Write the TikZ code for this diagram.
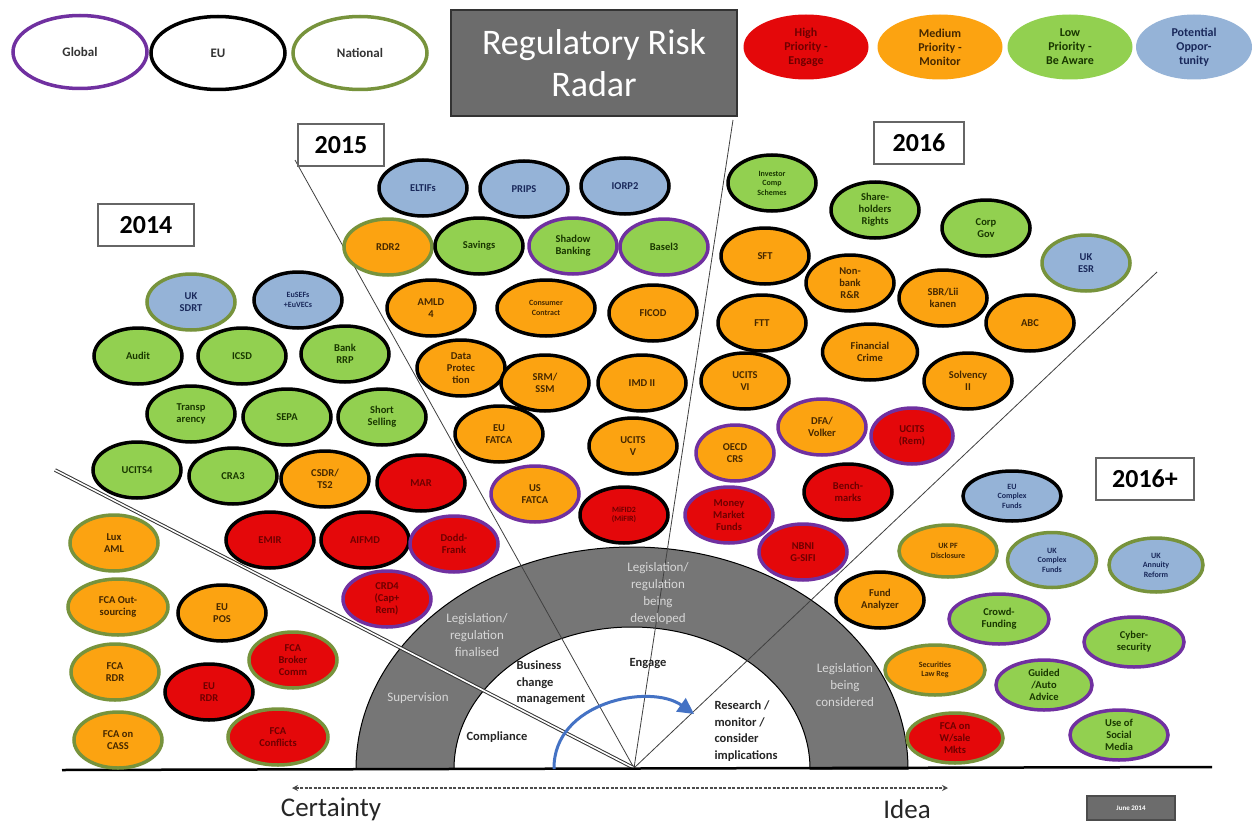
\documentclass[tikz,border=0pt]{standalone}
\usepackage{fontspec}
\setmainfont{Carlito}
\usetikzlibrary{shapes.geometric,arrows.meta}
\definecolor{cRed}{RGB}{228,8,10}
\definecolor{cOrange}{RGB}{252,163,17}
\definecolor{cGreen}{RGB}{146,208,80}
\definecolor{cBlue}{RGB}{149,179,215}
\definecolor{cPurple}{RGB}{112,48,160}
\definecolor{cOlive}{RGB}{119,147,60}
\definecolor{tRed}{RGB}{110,0,0}
\definecolor{tOrange}{RGB}{70,40,0}
\definecolor{tGreen}{RGB}{25,55,0}
\definecolor{tBlue}{RGB}{25,40,90}
\definecolor{ringgray}{RGB}{118,118,118}
\definecolor{titlegray}{RGB}{108,108,108}
\definecolor{ringtext}{RGB}{215,215,215}
\definecolor{arrowblue}{RGB}{68,114,196}
\newcommand\lblfont{\fontsize{10.5}{12}\selectfont\bfseries}
\newcommand\smlfont{\fontsize{8}{9.5}\selectfont\bfseries}
\tikzset{
  rr/.style={ellipse, minimum width=88pt, minimum height=56pt, inner sep=0pt, line width=3.5pt, align=center, font=\lblfont},
  sm/.style={font=\smlfont},
  hi/.style={fill=cRed, text=tRed},
  med/.style={fill=cOrange, text=tOrange},
  lo/.style={fill=cGreen, text=tGreen},
  pot/.style={fill=cBlue, text=tBlue},
  gl/.style={draw=cPurple},
  eu/.style={draw=black},
  na/.style={draw=cOlive},
  lg/.style={ellipse, minimum width=134pt, minimum height=73pt, line width=3.5pt, fill=white, text=black!80, font=\fontsize{13}{15}\selectfont\bfseries},
  pl/.style={ellipse, minimum width=125pt, minimum height=65pt, inner sep=0pt, align=center, font=\fontsize{12}{14}\selectfont\bfseries},
  yearbox/.style={draw=gray!80!black, line width=1.2pt, fill=white, font=\fontsize{26}{30}\selectfont\bfseries, minimum height=42pt, inner sep=0pt},
  ray/.style={draw=black!75, line width=0.8pt},
  ringtxt/.style={text=ringtext, font=\fontsize{13}{17}\selectfont, align=center},
  innertxt/.style={text=black!85, font=\fontsize{12.5}{16.5}\selectfont\bfseries},
}
\begin{document}
\begin{tikzpicture}[x=1pt,y=-1pt]
\useasboundingbox (0,0) rectangle (1252,824);
\fill[white] (0,0) rectangle (1252,824);

% ring
\fill[ringgray, draw=black, line width=1pt] (356,769) arc[start angle=180, end angle=0, x radius=276pt, y radius=222pt] -- (810,769) arc[start angle=0, end angle=180, x radius=178pt, y radius=142pt] -- cycle;

% rays
\coordinate (o) at (634,768);
\coordinate (r1) at (295,160);
\coordinate (r2) at (733,120);
\coordinate (r3) at (1157,272);
\coordinate (r0) at (55,470);
\draw[ray] (o) -- (r1);
\draw[ray] (o) -- (r2);
\draw[ray] (o) -- (r3);
\draw[draw=black!80, line width=1pt, double=white, double distance=1.6pt] (o) -- (r0);

% baseline
\coordinate (bl) at (62,770);
\coordinate (br) at (1212,767);
\draw[line width=2.5pt] (bl) -- (br);

% ring labels
\node[ringtxt] (sup) at (418,698) {Supervision};
\node[ringtxt] (fin) at (477,635) {Legislation/\\regulation\\finalised};
\node[ringtxt] (dev) at (658,594) {Legislation/\\regulation\\being\\developed};
\node[ringtxt] (con) at (845,685) {Legislation\\being\\considered};
\node[innertxt] (comp) at (497,737) {Compliance};
\node[innertxt, align=left, anchor=west] (bcm) at (513,683) {Business\\change\\management};
\node[innertxt] (eng) at (648,663) {Engage};
\node[innertxt, align=left, anchor=west] (res) at (711,731) {Research /\\monitor /\\consider\\implications};

% blue arrow
\coordinate (ba) at (554,769);
\coordinate (bb) at (694,714);
\draw[arrowblue, line width=3pt, -{Triangle[length=16pt,width=16pt]}] (ba) .. controls (553,702) and (650,683) .. (bb);

% legend
\node[lg, draw=cPurple] (lglobal) at (80,52) {Global};
\node[lg, draw=black] (leu) at (218,53) {EU};
\node[lg, draw=cOlive] (lnat) at (360,53) {National};
\node[pl, fill=cRed, text=tRed] (lhigh) at (806,47) {High\\Priority -\\Engage};
\node[pl, fill=cOrange, text=tOrange] (lmed) at (940,47) {Medium\\Priority -\\Monitor};
\node[pl, fill=cGreen, text=tGreen] (llow) at (1070,47) {Low\\Priority -\\Be Aware};
\node[pl, fill=cBlue, text=tBlue, minimum width=116pt] (lpot) at (1194,47) {Potential\\Oppor-\\tunity};

% title
\node[rectangle, fill=titlegray, draw=black!80, line width=1.5pt, minimum width=286pt, minimum height=106pt, text=white, align=center, font=\fontsize{36}{42}\selectfont] (title) at (594,63) {Regulatory Risk\\Radar};

% year boxes
\node[yearbox, minimum width=86pt] (y2015) at (341,145) {2015};
\node[yearbox, minimum width=90pt] (y2016) at (919,143) {2016};
\node[yearbox, minimum width=96pt] (y2014) at (146,225) {2014};
\node[yearbox, minimum width=98pt] (y2016p) at (1145,479) {2016+};

% 2014
\node[rr,pot,na] (uksdrt) at (191,302) {UK\\SDRT};
\node[rr,pot,eu,sm] (eusefs) at (298,300) {EuSEFs\\+EuVECs};
\node[rr,lo,eu] (audit) at (138,356) {Audit};
\node[rr,lo,eu] (icsd) at (242,356) {ICSD};
\node[rr,lo,eu] (bankrrp) at (345,354) {Bank\\RRP};
\node[rr,lo,eu] (transp) at (191,414) {Transp\\arency};
\node[rr,lo,eu] (sepa) at (287,417) {SEPA};
\node[rr,lo,eu] (short) at (382,417) {Short\\Selling};
\node[rr,lo,eu] (ucits4) at (137,470) {UCITS4};
\node[rr,lo,eu] (cra3) at (233,476) {CRA3};
\node[rr,med,eu] (csdr) at (325,479) {CSDR/\\TS2};
\node[rr,hi,eu] (mar) at (421,483) {MAR};
\node[rr,hi,eu] (emir) at (270,540) {EMIR};
\node[rr,hi,eu] (aifmd) at (365,540) {AIFMD};
\node[rr,hi,gl] (dodd) at (454,544) {Dodd-\\Frank};
\node[rr,hi,gl] (crd4) at (387,599) {CRD4\\(Cap+\\Rem)};
\node[rr,med,na] (luxaml) at (114,543) {Lux\\AML};
\node[rr,med,na,minimum width=100pt] (fcaout) at (118,607) {FCA Out-\\sourcing};
\node[rr,med,eu] (eupos) at (222,613) {EU\\POS};
\node[rr,med,na] (fcardr) at (115,672) {FCA\\RDR};
\node[rr,hi,na] (fcabroker) at (293,660) {FCA\\Broker\\Comm};
\node[rr,hi,eu] (eurdr) at (209,692) {EU\\RDR};
\node[rr,med,na] (fcacass) at (118,740) {FCA on\\CASS};
\node[rr,hi,na,minimum width=100pt] (fcaconf) at (278,737) {FCA\\Conflicts};

% 2015
\node[rr,pot,eu] (eltifs) at (423,188) {ELTIFs};
\node[rr,pot,eu] (prips) at (524,189) {PRIPS};
\node[rr,pot,eu] (iorp) at (625,186) {IORP2};
\node[rr,med,na] (rdr2) at (388,247) {RDR2};
\node[rr,lo,eu] (savings) at (479,246) {Savings};
\node[rr,lo,gl] (shadow) at (573,246) {Shadow\\Banking};
\node[rr,lo,gl] (basel) at (664,247) {Basel3};
\node[rr,med,eu] (amld) at (431,308) {AMLD\\4};
\node[rr,med,eu,sm,minimum width=98pt] (consumer) at (546,308) {Consumer\\Contract};
\node[rr,med,eu] (ficod) at (653,313) {FICOD};
\node[rr,med,eu] (datap) at (461,368) {Data\\Protec\\tion};
\node[rr,med,eu] (srm) at (545,383) {SRM/\\SSM};
\node[rr,med,eu] (imd) at (642,383) {IMD II};
\node[rr,med,eu] (eufatca) at (499,434) {EU\\FATCA};
\node[rr,med,eu] (ucitsv) at (633,446) {UCITS\\V};
\node[rr,med,gl] (usfatca) at (535,494) {US\\FATCA};
\node[rr,hi,eu,sm] (mifid) at (624,515) {MiFID2\\(MiFIR)};

% 2016
\node[rr,lo,eu,sm] (investor) at (772,183) {Investor\\Comp\\Schemes};
\node[rr,lo,eu] (share) at (875,210) {Share-\\holders\\Rights};
\node[rr,lo,eu] (corp) at (986,228) {Corp\\Gov};
\node[rr,pot,na] (ukesr) at (1086,263) {UK\\ESR};
\node[rr,med,eu] (sft) at (765,256) {SFT};
\node[rr,med,eu] (nonbank) at (850,283) {Non-\\bank\\R\&R};
\node[rr,med,eu] (sbr) at (943,298) {SBR/Lii\\kanen};
\node[rr,med,eu] (abc) at (1030,323) {ABC};
\node[rr,med,eu] (ftt) at (762,323) {FTT};
\node[rr,med,eu,minimum width=95pt] (fincrime) at (870,352) {Financial\\Crime};
\node[rr,med,eu] (solv) at (968,381) {Solvency\\II};
\node[rr,med,eu] (ucitsvi) at (745,381) {UCITS\\VI};
\node[rr,med,gl] (dfa) at (822,427) {DFA/\\Volker};
\node[rr,med,gl,minimum width=78pt] (oecd) at (735,453) {OECD\\CRS};
\node[rr,hi,gl,minimum width=82pt] (ucitsrem) at (912,436) {UCITS\\(Rem)};
\node[rr,hi,eu] (bench) at (848,492) {Bench-\\marks};
\node[rr,hi,gl] (mmf) at (729,515) {Money\\Market\\Funds};
\node[rr,hi,gl] (nbni) at (803,552) {NBNI\\G-SIFI};

% 2016+
\node[rr,med,eu] (fund) at (880,600) {Fund\\Analyzer};
\node[rr,pot,eu,sm,minimum width=98pt,minimum height=50pt] (eucomplex) at (1012,496) {EU\\Complex\\Funds};
\node[rr,med,na,sm,minimum width=98pt,minimum height=52pt] (ukpf) at (948,551) {UK PF\\Disclosure};
\node[rr,pot,na,sm,minimum width=89pt,minimum height=55pt] (ukcomplex) at (1052,560) {UK\\Complex\\Funds};
\node[rr,pot,na,sm,minimum width=94pt,minimum height=54pt] (ukannuity) at (1156,565) {UK\\Annuity\\Reform};
\node[rr,lo,gl,minimum width=100pt,minimum height=50pt] (crowd) at (999,619) {Crowd-\\Funding};
\node[rr,lo,gl,minimum width=100pt,minimum height=50pt] (cyber) at (1134,642) {Cyber-\\security};
\node[rr,med,na,sm,minimum width=100pt,minimum height=50pt] (seclaw) at (935,670) {Securities\\Law Reg};
\node[rr,lo,gl,minimum width=96pt,minimum height=50pt] (guided) at (1044,685) {Guided\\/Auto\\Advice};
\node[rr,hi,na,minimum width=96pt,minimum height=50pt] (fcaws) at (955,738) {FCA on\\W/sale\\Mkts};
\node[rr,lo,gl,minimum width=98pt,minimum height=50pt] (social) at (1119,735) {Use of\\Social\\Media};

% bottom axis
\coordinate (al) at (292,788);
\coordinate (ar) at (948,788);
\draw[black!70, line width=1.8pt, dash pattern=on 3pt off 1.5pt, {Stealth[length=6pt,width=6pt]}-{Stealth[length=6pt,width=6pt]}] (al) -- (ar);
\node[font=\fontsize{27}{30}\selectfont, text=black!85] (cert) at (331,809) {Certainty};
\node[font=\fontsize{27}{30}\selectfont, text=black!85] (idea) at (907,809) {Idea};
\node[rectangle, fill=titlegray, draw=black!70, line width=1.5pt, minimum width=88pt, minimum height=24pt, inner sep=0pt, text=white, font=\fontsize{7}{8}\selectfont\bfseries] (june) at (1131,808) {June 2014};
\end{tikzpicture}
\end{document}
